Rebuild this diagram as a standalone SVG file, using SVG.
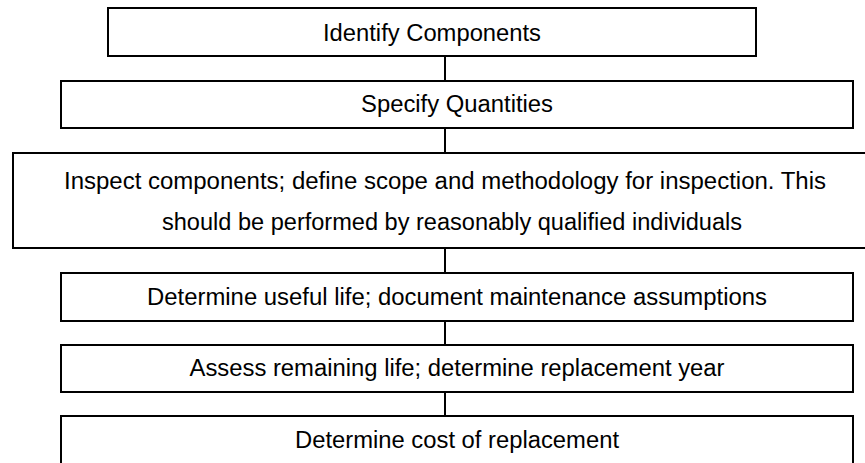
<svg xmlns="http://www.w3.org/2000/svg" width="865" height="463" viewBox="0 0 865 463">
<style>
.box{fill:#fff;stroke:#000;stroke-width:2}
.lbl{font-family:"Liberation Sans",Arial,sans-serif;font-size:23px;fill:#000;text-anchor:middle}
.con{stroke:#000;stroke-width:2;fill:none}
</style>
<rect width="865" height="463" fill="#fff"/>
<g id="connectors">
<line class="con" x1="445" y1="56" x2="445" y2="81"/>
<line class="con" x1="445" y1="128" x2="445" y2="153"/>
<line class="con" x1="445" y1="248" x2="445" y2="273"/>
<line class="con" x1="445" y1="321" x2="445" y2="345"/>
<line class="con" x1="445" y1="392" x2="445" y2="416"/>
</g>
<g id="n1"><rect class="box" x="108" y="8" width="648" height="48"/><text class="lbl" x="432" y="41" textLength="218" lengthAdjust="spacingAndGlyphs">Identify Components</text></g>
<g id="n2"><rect class="box" x="61" y="81" width="792" height="47"/><text class="lbl" x="457" y="112" textLength="192" lengthAdjust="spacingAndGlyphs">Specify Quantities</text></g>
<g id="n3"><rect class="box" x="13" y="153" width="866" height="95"/><text class="lbl" x="445" y="189" textLength="762" lengthAdjust="spacingAndGlyphs">Inspect components; define scope and methodology for inspection. This</text><text class="lbl" x="452" y="230" textLength="580" lengthAdjust="spacingAndGlyphs">should be performed by reasonably qualified individuals</text></g>
<g id="n4"><rect class="box" x="61" y="273" width="792" height="48"/><text class="lbl" x="457" y="305" textLength="620" lengthAdjust="spacingAndGlyphs">Determine useful life; document maintenance assumptions</text></g>
<g id="n5"><rect class="box" x="61" y="345" width="792" height="47"/><text class="lbl" x="457" y="376" textLength="535" lengthAdjust="spacingAndGlyphs">Assess remaining life; determine replacement year</text></g>
<g id="n6"><rect class="box" x="61" y="416" width="792" height="48"/><text class="lbl" x="457" y="448" textLength="324" lengthAdjust="spacingAndGlyphs">Determine cost of replacement</text></g>
</svg>
